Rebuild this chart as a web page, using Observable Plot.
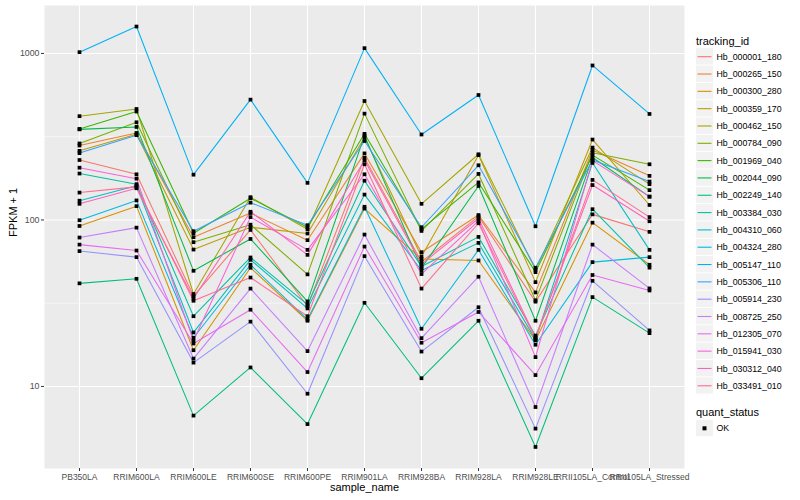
<!DOCTYPE html>
<html>
<head>
<meta charset="utf-8">
<script src="https://cdn.jsdelivr.net/npm/d3@7"></script>
<script src="https://cdn.jsdelivr.net/npm/@observablehq/plot@0.6"></script>
<style>
  html, body { margin: 0; padding: 0; background: #fff; }
  #wrap { position: relative; width: 800px; height: 500px; font-family: "Liberation Sans", Arial, sans-serif; }
  #chart { position: absolute; left: 0; top: 0; }
  #legend { position: absolute; left: 688px; top: 0; }
</style>
</head>
<body>
<div id="wrap"><div id="chart"></div><div id="legend"></div></div>
<script>
const samples = ["PB350LA","RRIM600LA","RRIM600LE","RRIM600SE","RRIM600PE","RRIM901LA","RRIM928BA","RRIM928LA","RRIM928LE","RRII105LA_Control","RRII105LA_Stressed"];

const trackingIds = ["Hb_000001_180","Hb_000265_150","Hb_000300_280","Hb_000359_170","Hb_000462_150","Hb_000784_090","Hb_001969_040","Hb_002044_090","Hb_002249_140","Hb_003384_030","Hb_004310_060","Hb_004324_280","Hb_005147_110","Hb_005306_110","Hb_005914_230","Hb_008725_250","Hb_012305_070","Hb_015941_030","Hb_030312_040","Hb_033491_010"];

const trackingColors = ["#F8766D","#EA8331","#D89000","#C09B00","#A3A500","#7CAE00","#39B600","#00BB4E","#00BF7D","#00C1A3","#00BFC4","#00BAE0","#00B0F6","#35A2FF","#9590FF","#C77CFF","#E76BF3","#FA62DB","#FF62BC","#FF6C91"];

// FPKM + 1, one row per tracking_id (same order), one column per sample
const fpkmPlusOne = [
  [229,188,34.9,87.1,30.3,236,56,105,32.3,108,84.8],
  [280,333,78.8,110,75.6,251,64,107,36.7,263,184],
  [92,121,16.5,51.6,24.8,117,58.2,57.1,18.9,96.3,53.8],
  [260,327,66.4,90.4,82.9,313,60.3,245,42.3,304,123],
  [420,464,35.9,137,88,518,125,248,50.2,272,164],
  [288,386,73.5,93.7,47.1,435,85.9,189,32.9,253,216],
  [352,448,83.2,135,90.4,329,88,168,48.6,245,151],
  [350,362,49.5,76.9,32.4,321,51.4,160,24.8,237,138],
  [41.6,44.3,6.68,13,5.94,31.8,11.2,24.8,4.33,34.4,20.9],
  [190,164,26.4,59.5,31,172,52.5,79.1,20.2,116,51.7],
  [130.5,160.5,21.1,57.6,29.4,142,49.7,72.8,19.1,220,66.1],
  [99.6,131,19.6,53.8,25.2,120,22.2,66.1,17.8,55.8,59.8],
  [1018,1451,187,528,167,1076,326,563,91.6,847,433],
  [252,323,85.6,127,93,298,90.4,213,51.6,229,170],
  [65,59.8,13.9,24.5,9.04,60.6,16.2,29.9,5.58,43.1,21.7],
  [78.4,89.9,14.7,38.7,16.3,81.7,19.5,45.6,7.52,71.1,38.8],
  [71.1,65.5,18.1,28.9,12.2,69.2,18.3,28,11.7,46.7,37.7],
  [206,177,18.8,104,66.1,188,47.3,98.6,15,227,138],
  [125,155,33.8,112,61.7,228,54.3,102,19.7,162,98.2],
  [146,158,32.7,45.1,26.4,216,38.7,95.5,19.3,174,104]
];

const yMajor = [10, 100, 1000];
const yMinor = [Math.sqrt(10), Math.sqrt(1000), Math.sqrt(100000)];
const quantStatus = ["OK"];

const rows = [];
trackingIds.forEach((id, i) => {
  samples.forEach((s, j) => rows.push({tracking_id: id, sample_name: s, value: fpkmPlusOne[i][j], quant_status: "OK"}));
});

const chart = Plot.plot({
  width: 688,
  height: 500,
  marginLeft: 44,
  marginRight: 4,
  marginTop: 5,
  marginBottom: 32,
  style: {fontFamily: "Liberation Sans, Arial, sans-serif", background: "transparent", overflow: "visible"},
  x: {type: "point", domain: samples, padding: 0.6, label: null},
  y: {type: "log", domain: [3.214, 1941], label: null},
  color: {domain: trackingIds, range: trackingColors},
  marks: [
    Plot.frame({fill: "#EBEBEB", stroke: "none"}),
    Plot.ruleY(yMinor, {stroke: "#fff", strokeWidth: 0.55}),
    Plot.ruleY(yMajor, {stroke: "#fff", strokeWidth: 1.1}),
    Plot.ruleX(samples, {stroke: "#fff", strokeWidth: 1.1}),
    Plot.line(rows, {x: "sample_name", y: "value", z: "tracking_id", stroke: "tracking_id", strokeWidth: 1.05}),
    Plot.dot(rows, {x: "sample_name", y: "value", symbol: "square", r: 2.1, fill: "#000", stroke: "none"}),
    Plot.axisY({ticks: yMajor, tickFormat: d => String(d), tickSize: 3, tickPadding: 2, fontSize: 8.8, color: "#4d4d4d", stroke: "#333", label: null}),
    Plot.axisX({tickSize: 3, tickPadding: 2, fontSize: 8.5, color: "#4d4d4d", stroke: "#333", label: null}),
    Plot.text(["FPKM + 1"], {frameAnchor: "left", dx: -31, rotate: -90, text: d => d, fontSize: 11, fill: "#000"}),
    Plot.text(["sample_name"], {frameAnchor: "bottom", dy: 22, text: d => d, fontSize: 11, fill: "#000"})
  ]
});
document.getElementById("chart").appendChild(chart);

// legend (SVG placed beside the plot)
const step = 17.32, y0 = 56.7, kx = 8, kw = 17, kh = 17;
const svg = d3.select("#legend").append("svg")
  .attr("width", 112).attr("height", 500)
  .style("font-family", "Liberation Sans, Arial, sans-serif");
svg.append("text").attr("x", 8).attr("y", 44.5).attr("font-size", 11).text("tracking_id");
trackingIds.forEach((id, i) => {
  const cy = y0 + i * step;
  svg.append("rect").attr("x", kx).attr("y", cy - kh / 2).attr("width", kw).attr("height", kh - 0.6).attr("fill", "#F2F2F2");
  svg.append("line").attr("x1", kx + 1.5).attr("x2", kx + kw - 1.5).attr("y1", cy).attr("y2", cy)
    .attr("stroke", trackingColors[i]).attr("stroke-width", 1.1);
  svg.append("text").attr("x", 28.5).attr("y", cy + 3.1).attr("font-size", 8.8).text(id);
});
svg.append("text").attr("x", 8).attr("y", 415.5).attr("font-size", 11).text("quant_status");
quantStatus.forEach((q, i) => {
  const cy = 428.3 + i * step;
  svg.append("rect").attr("x", kx).attr("y", cy - kh / 2).attr("width", kw).attr("height", kh - 0.6).attr("fill", "#F2F2F2");
  svg.append("rect").attr("x", kx + kw / 2 - 2).attr("y", cy - 2).attr("width", 4).attr("height", 4).attr("fill", "#000");
  svg.append("text").attr("x", 28.5).attr("y", cy + 3.1).attr("font-size", 8.8).text(q);
});
</script>
</body>
</html>
